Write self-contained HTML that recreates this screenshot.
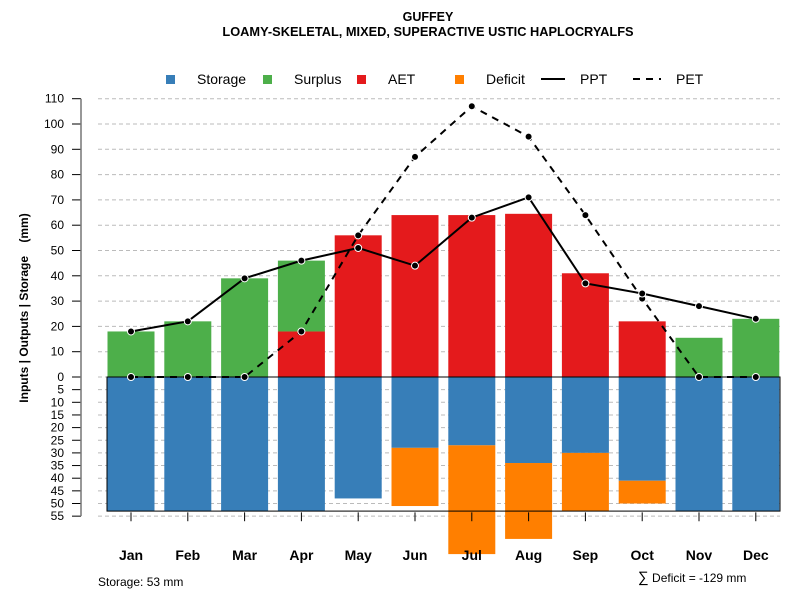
<!DOCTYPE html>
<html><head><meta charset="utf-8"><style>
body{margin:0;background:#fff}
svg text{font-family:"Liberation Sans",sans-serif}
</style></head><body>
<svg id="c" width="800" height="600" xmlns="http://www.w3.org/2000/svg">
<text x="428" y="21" font-size="12.5" font-weight="bold" text-anchor="middle">GUFFEY</text>
<text x="428" y="36" font-size="12.8" font-weight="bold" text-anchor="middle">LOAMY-SKELETAL, MIXED, SUPERACTIVE USTIC HAPLOCRYALFS</text>
<text transform="translate(28,308) rotate(-90)" font-size="12" font-weight="bold" text-anchor="middle" xml:space="preserve">Inputs | Outputs | Storage    (mm)</text>
<text x="98" y="586" font-size="12">Storage: 53 mm</text>
<text x="638" y="582" font-size="12"><tspan font-size="15">∑</tspan> Deficit = -129 mm</text>
<g id="legend">
<rect x="166" y="75" width="9" height="9" fill="#377eb8"/>
<text x="197" y="84" font-size="14">Storage</text>
<rect x="263" y="75" width="9" height="9" fill="#4daf4a"/>
<text x="294" y="84" font-size="14">Surplus</text>
<rect x="357" y="75" width="9" height="9" fill="#e41a1c"/>
<text x="388" y="84" font-size="14">AET</text>
<rect x="455" y="75" width="9" height="9" fill="#ff7f00"/>
<text x="486" y="84" font-size="14">Deficit</text>
<line x1="541" y1="79" x2="565" y2="79" stroke="#000" stroke-width="2"/>
<text x="580" y="84" font-size="14">PPT</text>
<line x1="633" y1="79" x2="661" y2="79" stroke="#000" stroke-width="2" stroke-dasharray="7,6"/>
<text x="676" y="84" font-size="14">PET</text>
</g>
</svg>
<script>
const months=["Jan","Feb","Mar","Apr","May","Jun","Jul","Aug","Sep","Oct","Nov","Dec"];
const ppt=[18,22,39,46,51,44,63,71,37,33,28,23];
const pet=[0,0,0,18,56,87,107,95,64,31,0,0];
const aet=[0,0,0,18,56,64,64,64.5,41,22,0,0];
const surplus=[18,22,39,28,0,0,0,0,0,0,15.5,23];
const storage=[53,53,53,53,48,28,27,34,30,41,53,53];
const deficit=[0,0,0,0,0,23,43,30,23,9,0,0];
const upTicks=[0,10,20,30,40,50,60,70,80,90,100,110];
const downTicks=[5,10,15,20,25,30,35,40,45,50,55];
const awc=53;
const svg=document.getElementById('c');
const NS='http://www.w3.org/2000/svg';
const y0=377, k=2.53;
const yUp=v=>y0-v*k, yDn=v=>y0+v*k;
const xC=i=>131+i*56.8, bw=47;
function mk(t,a,p){const e=document.createElementNS(NS,t);for(const n in a)e.setAttribute(n,a[n]);(p||svg).appendChild(e);return e;}
const g=mk('g',{});
upTicks.forEach(v=>{const l=mk('line',{x1:98,x2:780,y1:yUp(v),y2:yUp(v),stroke:'#bbb','stroke-dasharray':'4,3'},g);


mk('line',{x1:72,x2:81,y1:yUp(v),y2:yUp(v),stroke:'#000'},g);
const tx=mk('text',{x:64,y:yUp(v)+4,'font-size':12,'text-anchor':'end'},g);tx.textContent=v;

});
downTicks.forEach(v=>{const l=mk('line',{x1:98,x2:780,y1:yDn(v),y2:yDn(v),stroke:'#bbb','stroke-dasharray':'4,3'},g);


mk('line',{x1:72,x2:81,y1:yDn(v),y2:yDn(v),stroke:'#000'},g);
const tx=mk('text',{x:64,y:yDn(v)+4,'font-size':12,'text-anchor':'end'},g);tx.textContent=v;

});
const ax=mk('line',{x1:81,x2:81,y1:yUp(110),y2:yDn(55),stroke:'#777','stroke-width':1.5},g);


months.forEach((m,i)=>{
const x=xC(i)-bw/2;
let r=mk('rect',{x:x,y:yUp(aet[i]),width:bw,height:aet[i]*k,fill:'#e41a1c'});


r=mk('rect',{x:x,y:yUp(aet[i]+surplus[i]),width:bw,height:surplus[i]*k,fill:'#4daf4a'});


r=mk('rect',{x:x,y:y0,width:bw,height:storage[i]*k,fill:'#377eb8'});


r=mk('rect',{x:x,y:yDn(storage[i]),width:bw,height:deficit[i]*k,fill:'#ff7f00'});


mk('line',{x1:xC(i),x2:xC(i),y1:yDn(53.5),y2:yDn(57),stroke:'#000'});
const t=mk('text',{x:xC(i),y:560,'font-size':14,'font-weight':'bold','text-anchor':'middle'});t.textContent=m;


});
const box=mk('rect',{x:107,y:y0,width:673,height:awc*k,fill:'none',stroke:'#000'});


const ptsPet=pet.map((v,i)=>xC(i)+','+yUp(v)).join(' ');
const lp=mk('polyline',{points:ptsPet,fill:'none',stroke:'#000','stroke-width':2,'stroke-dasharray':'7,6'});


const ptsPpt=ppt.map((v,i)=>xC(i)+','+yUp(v)).join(' ');
const ll=mk('polyline',{points:ptsPpt,fill:'none',stroke:'#000','stroke-width':2});


[pet,ppt].forEach((s,j)=>s.forEach((v,i)=>{const c=mk('circle',{cx:xC(i),cy:yUp(v),r:3.5,fill:'#000',stroke:'#fff','stroke-width':1});

}));
svg.appendChild(document.getElementById('legend'));
</script>
</body></html>
